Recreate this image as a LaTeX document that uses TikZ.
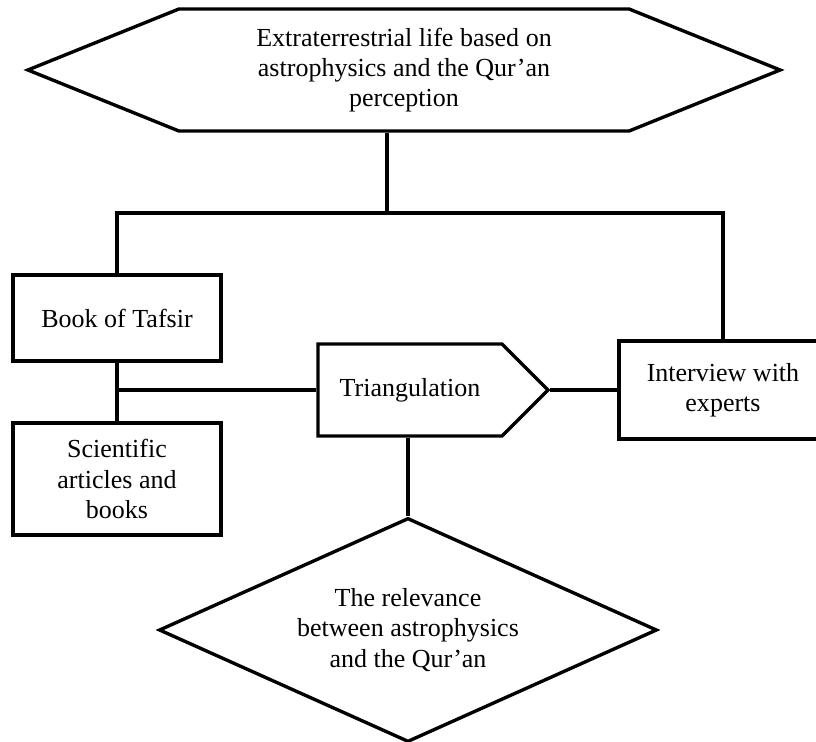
\documentclass[tikz,border=0pt]{standalone}
\usepackage{fontspec}
\setmainfont{Liberation Serif}
\usetikzlibrary{positioning,calc,shapes.geometric,shapes.symbols}
\tikzset{font=\fontsize{18.5}{21.5}\selectfont}
\tikzset{box/.style={draw, line width=2.4pt, align=center, inner sep=1pt}}

\begin{document}
\begin{tikzpicture}[x=0.025cm, y=-0.025cm, line width=2.4pt]
	\useasboundingbox (0,0) rectangle (816,742);
	\begin{scope}
		\node[box, signal, signal to=west and east, signal pointer angle=44,
			minimum width=18.8cm, minimum height=3.05cm] (ext) at (404,70)
			{Extraterrestrial life based on\\astrophysics and the Qur’an\\perception};

		\node[box, minimum width=5.2cm, minimum height=2.15cm] (tafsir) at (117,318) {Book of Tafsir};
		\node[box, minimum width=5.2cm, minimum height=2.8cm] (sci) at (117,479) {Scientific\\articles and\\books};
		\node[box, signal, signal to=east, signal pointer angle=90,
			minimum width=5.75cm, minimum height=2.3cm] (tri) at (410,390) {Triangulation};
		\node[box, minimum width=5.2cm, minimum height=2.45cm] (intv) at (723,390) {Interview with\\experts};
		\node[box, diamond, aspect=2.2, inner sep=0pt,
			minimum width=12.45cm, minimum height=5.6cm] (rel) at (408,630)
			{The relevance\\between astrophysics\\and the Qur’an};

		\coordinate (jn) at (387,213);
		\draw (ext.south -| jn) to (jn);
		\draw (tafsir.north) |- (jn) -| (intv.north);
		\draw (tafsir) to (sci);
		\draw (tri.west) to (tri.west -| tafsir.south);
		\draw (tri.east) to (intv.west);
		\draw (rel.north) to (rel.north |- tri.south);
	\end{scope}
\end{tikzpicture}
\end{document}
